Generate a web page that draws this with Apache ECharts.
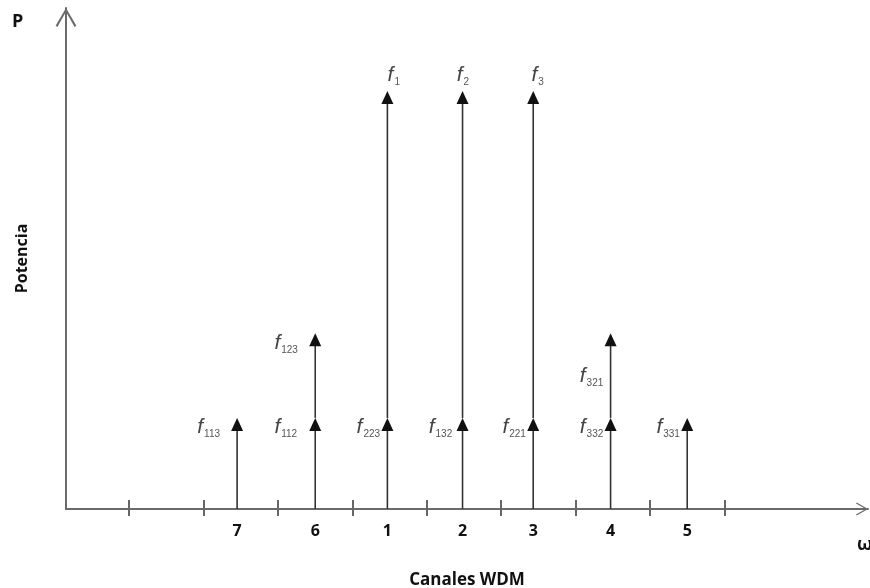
<!DOCTYPE html>
<html><head><meta charset="utf-8">
<script src="https://cdn.jsdelivr.net/npm/echarts@6/dist/echarts.min.js"></script>
<style>html,body{margin:0;padding:0;background:#fff}#c{width:870px;height:588px}</style>
</head><body><div id="c"></div>
<script>
// ---- data ----
const channelNames = ['7', '6', '1', '2', '3', '4', '5'];
const channelPos = [1.45, 2.5, 3.47, 4.48, 5.43, 6.47, 7.5];
const tickPos = [0, 1, 2, 3, 4, 5, 6, 7, 8];
// arrow segments (stacked arrows on each channel)
const segChannel = ['7', '6', '6', '1', '1', '2', '2', '3', '3', '4', '4', '5'];
const segFrom    = [0, 0, 1, 0, 1, 0, 1, 0, 1, 0, 1, 0];
const segTo      = [1, 1, 1.93, 1, 4.59, 1, 4.59, 1, 4.59, 1, 1.93, 1];
const segSub     = ['113', '112', '123', '223', '1', '132', '2', '221', '3', '332', '321', '331'];

// ---- style / layout (not data) ----
const labelOffset = {
  '1': [6, -16], '2': [0, -16], '3': [4, -16],
  '113': [-34, 9], '112': [-35, 9], '223': [-25, 9], '132': [-28, 9],
  '221': [-25, 9], '332': [-25, 9], '331': [-25, 9],
  '123': [-35, 10], '321': [-25, 43]
};
const chevron = 'path://M0,18 L10.5,0 L21,18 L19.2,19.2 L10.5,3.8 L1.8,19.2 Z';

const segData = segChannel.map((c, i) => [channelPos[channelNames.indexOf(c)], segFrom[i], segTo[i], i]);

const chart = echarts.init(document.getElementById('c'), null, {renderer: 'canvas'});
const xMin = -0.85, xMax = 9.93;
chart.setOption({
  animation: false,
  title: [
    {text: 'P', left: 12, top: 13, padding: 0, textStyle: {fontFamily: 'Open Sans', fontWeight: 'bold', fontSize: 18, color: '#111'}},
    {text: 'ω', left: 857, top: 536, padding: 0, textStyle: {fontFamily: 'Open Sans', fontWeight: 'bold', fontSize: 18, color: '#111'}}
  ],
  grid: {left: 66, right: 2, top: 8, bottom: 79, containLabel: false, outerBoundsMode: 'none'},
  xAxis: [{
    type: 'value', min: xMin, max: xMax,
    name: 'Canales WDM', nameLocation: 'middle', nameGap: 63,
    nameTextStyle: {fontFamily: 'Open Sans', fontWeight: 'bold', fontSize: 17, color: '#111'},
    axisLine: {show: true, onZero: false, symbol: ['none', chevron], symbolSize: [20, 12], symbolOffset: [0, -6],
      lineStyle: {color: '#6a6a6a', width: 2}},
    axisTick: {show: true, inside: false, length: 7, customValues: tickPos, lineStyle: {color: '#666', width: 2}},
    axisLabel: {show: true, customValues: channelPos, margin: 14,
      formatter: v => channelNames[channelPos.indexOf(v)] || '',
      fontFamily: 'Open Sans', fontWeight: 'bold', fontSize: 16, color: '#111'},
    splitLine: {show: false}
  }, {
    type: 'value', min: xMin, max: xMax, position: 'bottom',
    axisLine: {show: false, onZero: false},
    axisTick: {show: true, inside: true, length: 9, customValues: tickPos, lineStyle: {color: '#666', width: 2}},
    axisLabel: {show: false},
    splitLine: {show: false}
  }],
  yAxis: {
    type: 'value', min: 0, max: 5.5, position: 'left',
    name: 'Potencia', nameLocation: 'middle', nameGap: 36, nameRotate: 90,
    nameTextStyle: {fontFamily: 'Open Sans', fontWeight: 'bold', fontSize: 16, color: '#111'},
    axisLine: {show: true, onZero: false, symbol: ['none', chevron], symbolSize: [21, 19], symbolOffset: [0, -9.5],
      lineStyle: {color: '#6a6a6a', width: 2}},
    axisTick: {show: false}, axisLabel: {show: false}, splitLine: {show: false}
  },
  series: [{
    type: 'custom',
    xAxisIndex: 0, yAxisIndex: 0,
    data: segData,
    encode: {x: 0, y: [1, 2]},
    clip: false,
    renderItem: function (params, api) {
      const i = api.value(3);
      const p0 = api.coord([api.value(0), api.value(1)]);
      const p1 = api.coord([api.value(0), api.value(2)]);
      const headH = 13, headW = 12;
      const sub = segSub[i];
      const off = labelOffset[sub] || [-25, 9];
      const ax = p1[0] + off[0], ay = p1[1] + off[1];
      return {
        type: 'group',
        children: [
          {type: 'line', shape: {x1: p0[0], y1: p0[1], x2: p1[0], y2: p1[1] + headH - 1},
            style: {stroke: '#333', lineWidth: 1.6}},
          {type: 'polygon', shape: {points: [[p1[0], p1[1]], [p1[0] - headW / 2, p1[1] + headH], [p1[0] + headW / 2, p1[1] + headH]]},
            style: {fill: '#111'}},
          {type: 'text', style: {text: 'f', x: ax, y: ay, align: 'right', verticalAlign: 'middle',
            font: 'italic 21px "Liberation Sans"', fill: '#444'}},
          {type: 'text', style: {text: sub, x: ax + 1, y: ay + 7, align: 'left', verticalAlign: 'middle',
            font: '10px "Liberation Sans"', fill: '#555'}}
        ]
      };
    }
  }]
});
</script>
</body></html>
